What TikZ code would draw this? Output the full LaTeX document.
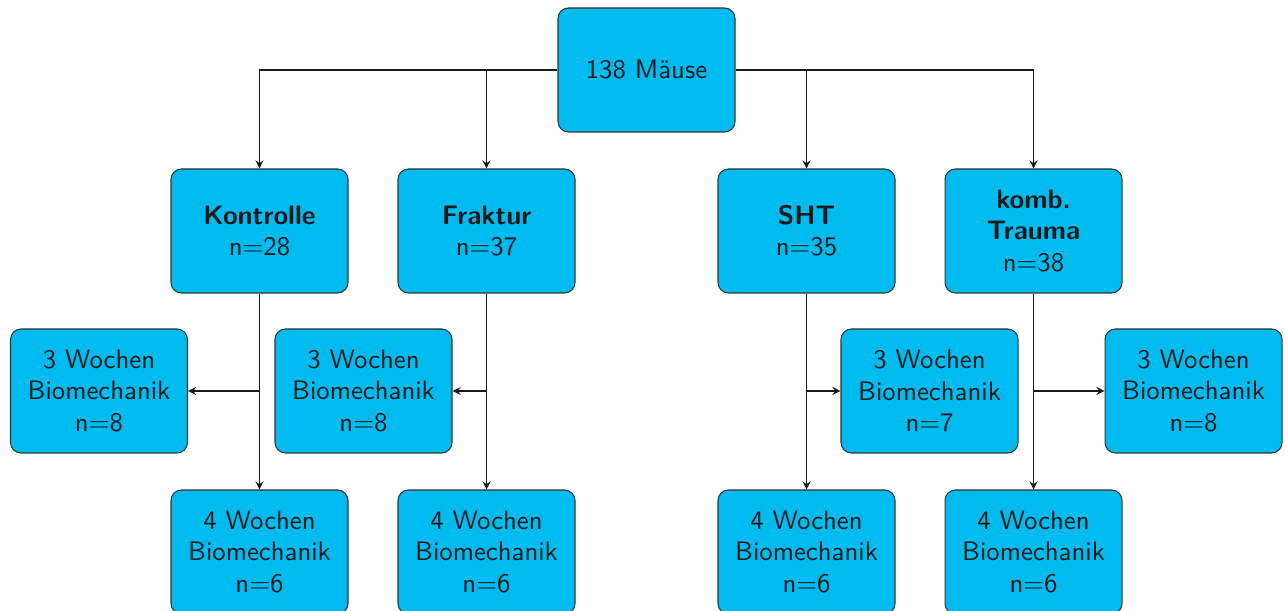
\documentclass[tikz,border=0pt]{standalone}
\usetikzlibrary{arrows,positioning}
\usepackage{xcolor}
\newcommand{\myunit}{0.1353 cm}
\definecolor{boxcyan}{RGB}{0,187,240}
\tikzset{
    boxsty/.style={draw=black!80,fill=boxcyan,rectangle,rounded corners=4pt,
        minimum width=17.7*\myunit,minimum height=12.4*\myunit,
        align=center,font=\sffamily\fontsize{10.3}{12}\selectfont,text=black!90,anchor=center},
    linesty/.style={->,draw=black!90,line width=0.4pt},
}

\begin{document}
\begin{tikzpicture}[>=stealth]
\useasboundingbox (0,0) rectangle (128.6*\myunit,-61.1*\myunit);

\node (mice) [boxsty] at (64.65*\myunit, -7.0*\myunit) {138 Mäuse};

\node (kon) [boxsty] at (25.95*\myunit, -23.1*\myunit) {\textbf{Kontrolle}\\n=28};
\node (fra) [boxsty] at (48.65*\myunit, -23.1*\myunit) {\textbf{Fraktur}\\n=37};
\node (sht) [boxsty] at (80.65*\myunit, -23.1*\myunit) {\textbf{SHT}\\n=35};
\node (kmb) [boxsty] at (103.35*\myunit, -23.1*\myunit) {\textbf{komb.}\\\textbf{Trauma}\\n=38};

\node (kon3) [boxsty] at (9.9*\myunit, -39.1*\myunit) {3 Wochen\\Biomechanik\\n=8};
\node (fra3) [boxsty] at (36.35*\myunit, -39.1*\myunit) {3 Wochen\\Biomechanik\\n=8};
\node (sht3) [boxsty] at (92.95*\myunit, -39.1*\myunit) {3 Wochen\\Biomechanik\\n=7};
\node (kmb3) [boxsty] at (119.35*\myunit, -39.1*\myunit) {3 Wochen\\Biomechanik\\n=8};

\node (kon4) [boxsty] at (25.95*\myunit, -55.2*\myunit) {4 Wochen\\Biomechanik\\n=6};
\node (fra4) [boxsty] at (48.65*\myunit, -55.2*\myunit) {4 Wochen\\Biomechanik\\n=6};
\node (sht4) [boxsty] at (80.65*\myunit, -55.2*\myunit) {4 Wochen\\Biomechanik\\n=6};
\node (kmb4) [boxsty] at (103.35*\myunit, -55.2*\myunit) {4 Wochen\\Biomechanik\\n=6};

% root to groups
\draw [linesty] (mice.west) -| (kon.north);
\draw [linesty] (mice.west) -| (fra.north);
\draw [linesty] (mice.east) -| (sht.north);
\draw [linesty] (mice.east) -| (kmb.north);

% groups to time points
\draw [linesty] (kon.south) -- (kon4.north);
\draw [linesty] (kon.south |- kon3.east) -- (kon3.east);
\draw [linesty] (fra.south) -- (fra4.north);
\draw [linesty] (fra.south |- fra3.east) -- (fra3.east);
\draw [linesty] (sht.south) -- (sht4.north);
\draw [linesty] (sht.south |- sht3.west) -- (sht3.west);
\draw [linesty] (kmb.south) -- (kmb4.north);
\draw [linesty] (kmb.south |- kmb3.west) -- (kmb3.west);

\end{tikzpicture}
\end{document}
